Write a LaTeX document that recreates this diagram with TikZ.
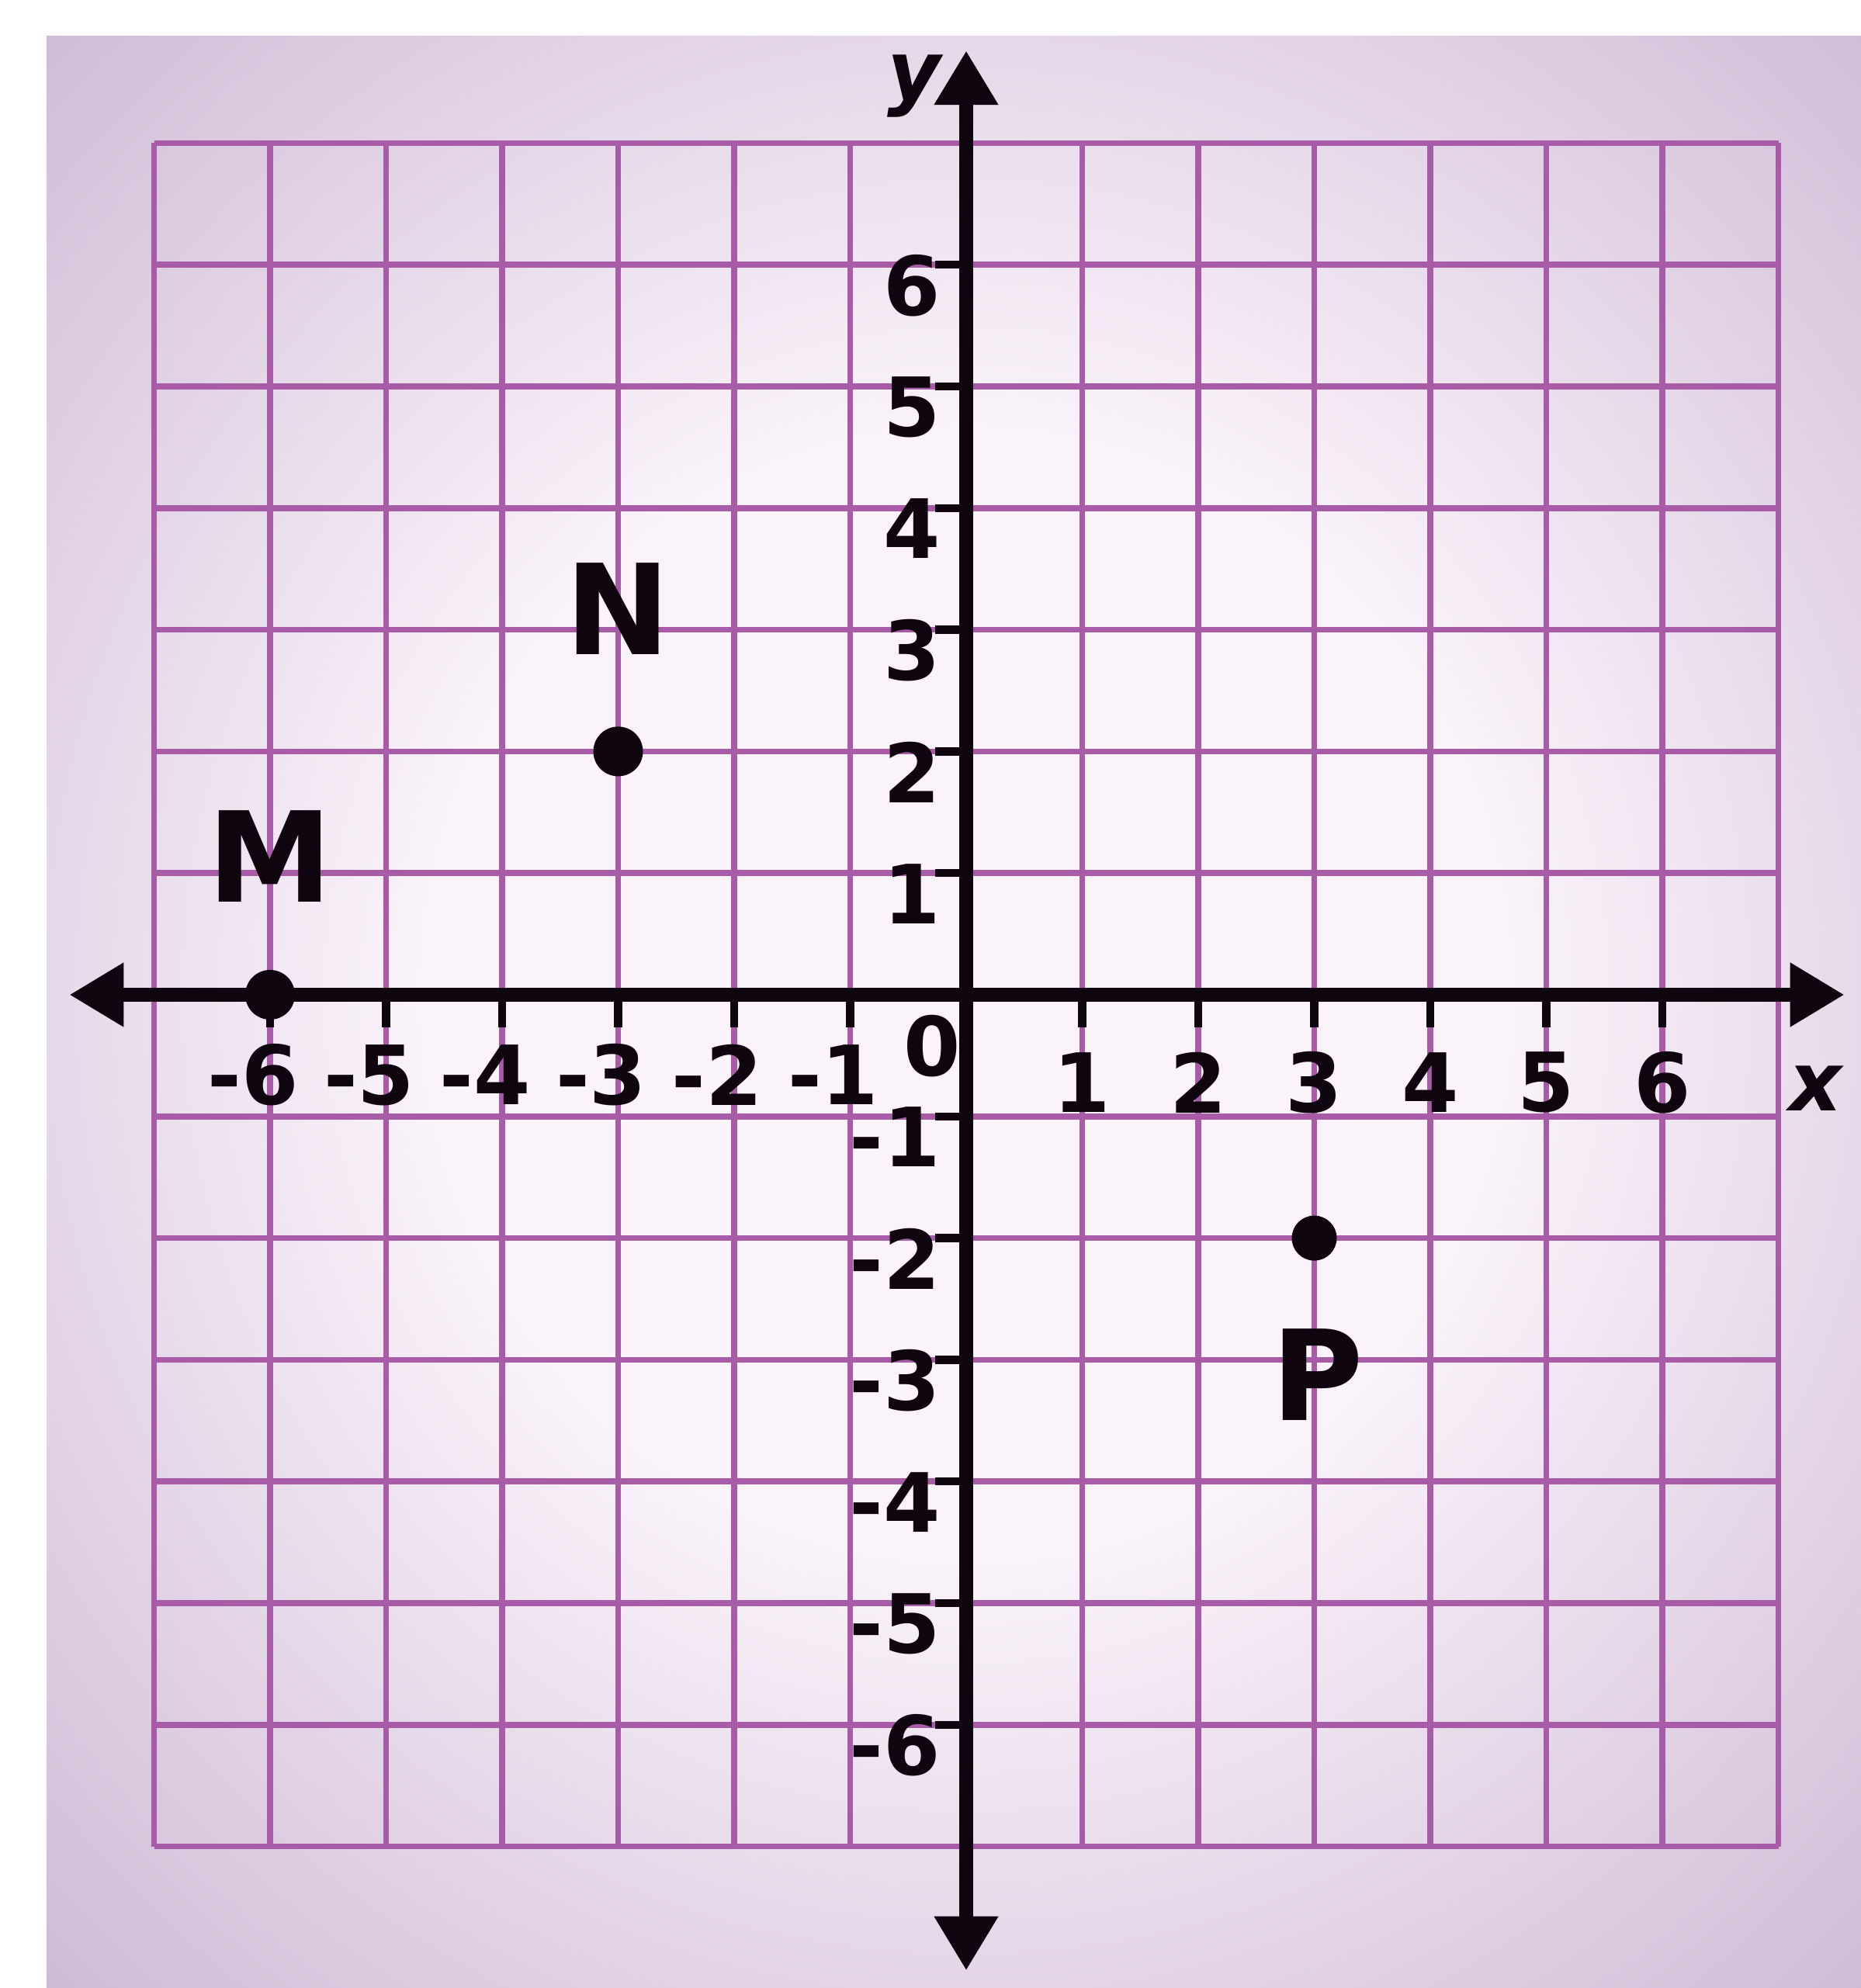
\documentclass[tikz,border=0pt]{standalone}
\usepackage{fontspec}
\setmainfont{DejaVu Sans}
\usetikzlibrary{arrows.meta}
\definecolor{paper}{RGB}{200,178,208}
\definecolor{paperlight}{RGB}{250,243,250}
\definecolor{gridc}{RGB}{168,92,168}
\definecolor{ink}{RGB}{15,5,15}
\pgfdeclareradialshading{papershade}{\pgfpoint{0bp}{0bp}}{color(0bp)=(paperlight); color(14bp)=(paperlight); color(37bp)=(paper); color(50bp)=(paper)}
\begin{document}
\begin{tikzpicture}[
  gridline/.style={draw=gridc, line width=2.2pt},
  axisline/.style={draw=ink, line width=5pt,
    {Triangle[length=7mm,width=7.8mm]}-{Triangle[length=7mm,width=7.8mm]}},
  tickline/.style={draw=ink, line width=3pt},
  ticklab/.style={font=\fontsize{30}{30}\selectfont\bfseries, text=ink, inner sep=0pt},
  varlab/.style={font=\fontsize{30}{30}\selectfont\bfseries\itshape, text=ink, inner sep=0pt},
  ptlab/.style={font=\fontsize{46}{46}\selectfont\bfseries, text=ink, inner sep=0pt},
  ptdot/.style={circle, fill=ink, inner sep=0pt, minimum size=6.4mm},
]
\useasboundingbox (0,0) rectangle (23.98,25.62);
\fill[white] (0,0) rectangle (23.98,25.62);
\fill[paper] (0.6,0) rectangle (23.98,25.15);
\begin{scope}
  \clip (0.6,0) rectangle (23.98,25.15);
  \shade[shading=papershade] (12.45-12.5,12.80-13) rectangle (12.45+12.5,12.80+13);
\end{scope}
\begin{scope}[shift={(12.45,12.80)}, x=1.495cm, y=1.568cm]
  % grid
  \foreach \i in {-7,...,7} {
    \draw[gridline] (\i,-7) -- (\i,7);
    \draw[gridline] (-7,\i) -- (7,\i);
  }
  % axes
  \coordinate (xl) at (-7.73,0);
  \coordinate (xr) at (7.57,0);
  \coordinate (yb) at (0,-8.02);
  \coordinate (yt) at (0,7.76);
  \draw[axisline] (xl) -- (xr);
  \draw[axisline] (yb) -- (yt);
  % ticks and labels
  \foreach \k in {-6,...,-1,1,2,...,6} {
    \pgfmathtruncatemacro\a{abs(\k)}
    \draw[tickline] (\k,0) -- (\k,-0.27);
    \draw[tickline] (0,\k) -- (-0.27,\k);
    \ifnum\k<0
      \node[ticklab] (xlab\a n) at (\k,-0.66) {\llap{-}\a};
      \node[ticklab] (ylab\a n) at (-0.47,\k-0.17) {\llap{-}\a};
    \else
      \node[ticklab] (xlab\a p) at (\k,-0.72) {\a};
      \node[ticklab] (ylab\a p) at (-0.47,\k-0.17) {\a};
    \fi
  }
  \node[ticklab] (zero) at (-0.29,-0.42) {0};
  \node[varlab] (ylabel) at (-0.45,7.47) {y};
  \node[varlab] (xlabel) at (7.32,-0.77) {x};
  % points
  \node[ptdot] (M) at (-6,0) {};
  \node[ptdot] (N) at (-3,2) {};
  \node[ptdot, minimum size=5.8mm] (P) at (3,-2) {};
  \node[ptlab] (Mlab) at (-6,1.14) {M};
  \node[ptlab] (Nlab) at (-3,3.17) {N};
  \node[ptlab] (Plab) at (3.03,-3.12) {P};
\end{scope}
\end{tikzpicture}
\end{document}
